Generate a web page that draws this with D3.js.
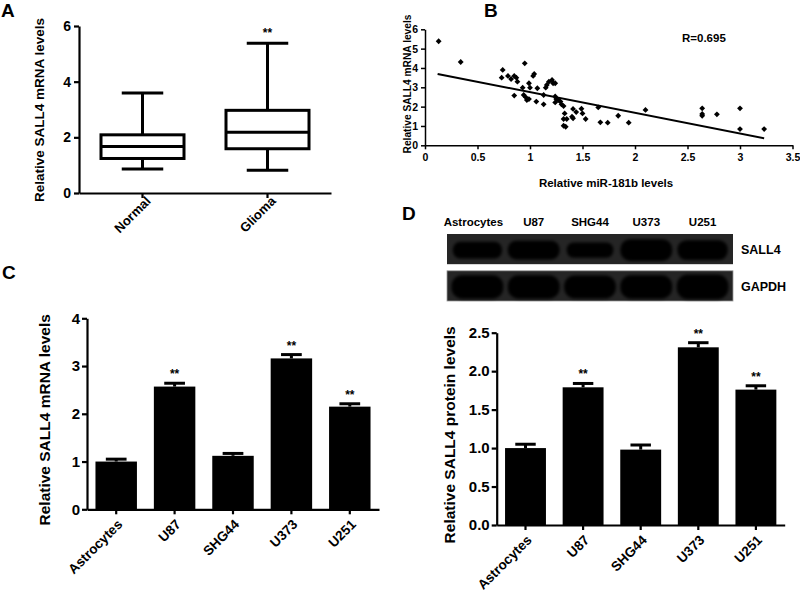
<!DOCTYPE html>
<html>
<head>
<meta charset="utf-8">
<script src="https://cdn.jsdelivr.net/npm/d3@7"></script>
<style>
  body { margin: 0; background: #fff; }
  svg { display: block; }
</style>
</head>
<body>
<svg id="fig" width="800" height="594"></svg>
<script>
// ---- data ----
// A: box plot
const boxGroups = ["Normal", "Glioma"];
const boxMin = [0.86, 0.82];
const boxQ1 = [1.24, 1.59];
const boxMedian = [1.67, 2.18];
const boxQ3 = [2.09, 2.97];
const boxMax = [3.59, 5.38];
const boxSig = ["", "**"];

// B: scatter, miR-181b vs SALL4 mRNA
const mirLevels = [0.13, 0.34, 0.74, 0.73, 0.79, 0.82, 0.85, 0.87, 0.88, 0.85,
  0.95, 0.93, 0.94, 0.96, 0.97, 0.99, 0.99, 1.0, 1.03, 1.04,
  1.07, 1.06, 1.13, 1.13, 1.15, 1.16, 1.18, 1.21, 1.22, 1.24,
  1.24, 1.25, 1.24, 1.27, 1.29, 1.30, 1.32, 1.32, 1.33, 1.32,
  1.34, 1.35, 1.41, 1.40, 1.41, 1.44, 1.49, 1.50, 1.53, 1.65,
  1.67, 1.74, 1.84, 1.94, 2.10, 2.64, 2.64, 2.64, 2.78, 3.0,
  3.0, 3.23];
const sallLevels = [5.38, 4.31, 3.9, 3.5, 3.59, 3.43, 3.59, 3.5, 3.29, 2.57,
  4.24, 2.98, 2.6, 2.48, 2.34, 2.39, 3.21, 2.98, 3.59, 3.69,
  2.95, 2.26, 2.12, 2.6, 2.98, 3.12, 3.29, 3.38, 3.21, 3.21,
  2.53, 2.39, 2.22, 2.34, 2.26, 2.12, 2.03, 1.36, 1.65, 1.01,
  0.96, 1.36, 1.88, 1.48, 1.4, 1.72, 1.89, 1.65, 1.36, 1.96,
  1.19, 1.17, 1.53, 1.17, 1.83, 1.91, 1.62, 1.53, 1.6, 1.91,
  0.84, 0.84];
const fitX = [0.12, 3.23];
const fitY = [3.69, 0.36];
const rText = "R=0.695";

// C, D: cell lines
const cells = ["Astrocytes", "U87", "SHG44", "U373", "U251"];
const mrnaMean = [1.0, 2.57, 1.12, 3.16, 2.15];
const mrnaErr = [0.05, 0.07, 0.05, 0.08, 0.06];
const proteinMean = [1.0, 1.79, 0.98, 2.31, 1.76];
const proteinErr = [0.05, 0.05, 0.06, 0.06, 0.05];
const cellSig = ["", "**", "", "**", "**"];

// D: western blot
const blotRows = ["SALL4", "GAPDH"];
const sallBand = [0.55, 0.62, 0.5, 0.72, 0.66];
const sallBandWidth = [0.95, 1, 0.9, 1, 0.97];
const gapdhBand = [0.78, 0.78, 0.76, 0.78, 0.82];

const font = '"Liberation Sans", Arial, Helvetica, sans-serif';
const svg = d3.select("#fig")
  .attr("font-family", font)
  .attr("font-weight", "bold");

function styleAxis(g, w, size) {
  g.attr("font-family", font).attr("font-size", size).attr("font-weight", "bold");
  g.select(".domain").attr("stroke", "#000").attr("stroke-width", w);
  g.selectAll(".tick line").attr("stroke", "#000").attr("stroke-width", w);
  g.selectAll(".tick text").attr("fill", "#000");
}

function panelLetter(t, x, y) {
  svg.append("text").attr("x", x).attr("y", y)
    .attr("font-size", 19).text(t);
}

function yTitle(t, x, y, size) {
  svg.append("text")
    .attr("transform", `translate(${x},${y}) rotate(-90)`)
    .attr("text-anchor", "middle")
    .attr("dy", "0.35em")
    .attr("font-size", size)
    .text(t);
}

// ================= A =================
panelLetter("A", 1, 17);
const xA = d3.scaleBand().domain(boxGroups).range([79, 331])
  .paddingInner(0.336).paddingOuter(0.176);
const yA = d3.scaleLinear().domain([0, 6]).range([193, 26]);

svg.append("g")
  .attr("transform", "translate(79,0)")
  .call(d3.axisLeft(yA).tickValues([0, 2, 4, 6]).tickFormat(d3.format("d"))
    .tickSize(5).tickPadding(3).tickSizeOuter(0))
  .call(g => styleAxis(g, 2.2, 14));

const axA = svg.append("g")
  .attr("transform", "translate(0,193)")
  .call(d3.axisBottom(xA).tickSize(5).tickSizeOuter(0))
  .call(g => styleAxis(g, 2.2, 13));
axA.selectAll(".tick text")
  .attr("x", null).attr("y", null).attr("dy", null)
  .attr("text-anchor", "end")
  .attr("transform", "translate(9,9) rotate(-45)");

const boxes = svg.append("g").selectAll("g").data(boxGroups).join("g");
boxes.each(function(d, i) {
  const g = d3.select(this);
  const cx = xA(d) + xA.bandwidth() / 2;
  const bw = xA.bandwidth();
  const line = (x1, y1, x2, y2) => g.append("line")
    .attr("x1", x1).attr("y1", y1).attr("x2", x2).attr("y2", y2)
    .attr("stroke", "#000").attr("stroke-width", 3);
  line(cx, yA(boxMin[i]), cx, yA(boxQ1[i]));
  line(cx, yA(boxQ3[i]), cx, yA(boxMax[i]));
  line(cx - bw / 4, yA(boxMin[i]), cx + bw / 4, yA(boxMin[i]));
  line(cx - bw / 4, yA(boxMax[i]), cx + bw / 4, yA(boxMax[i]));
  g.append("rect")
    .attr("x", xA(d)).attr("y", yA(boxQ3[i]))
    .attr("width", bw).attr("height", yA(boxQ1[i]) - yA(boxQ3[i]))
    .attr("fill", "#fff").attr("stroke", "#000").attr("stroke-width", 3);
  line(xA(d), yA(boxMedian[i]), xA(d) + bw, yA(boxMedian[i]));
  if (boxSig[i]) {
    g.append("text").attr("x", cx).attr("y", yA(boxMax[i]) - 6)
      .attr("text-anchor", "middle").attr("font-size", 12).text(boxSig[i]);
  }
});
yTitle("Relative SALL4 mRNA levels", 39, 110, 13.5);

// ================= B =================
panelLetter("B", 484, 17);
const xB = d3.scaleLinear().domain([0, 3.5]).range([425, 792.5]);
const yB = d3.scaleLinear().domain([0, 6]).range([145.3, 29.3]);

svg.append("g")
  .attr("transform", "translate(425,0)")
  .call(d3.axisLeft(yB).ticks(6).tickFormat(d3.format("d")).tickSize(4).tickPadding(3).tickSizeOuter(0))
  .call(g => styleAxis(g, 1.5, 10.5));
svg.append("g")
  .attr("transform", "translate(0,145.3)")
  .call(d3.axisBottom(xB).tickValues(d3.range(0, 3.51, 0.5))
    .tickFormat(d => String(+d.toFixed(1))).tickSize(4).tickPadding(4).tickSizeOuter(0))
  .call(g => styleAxis(g, 1.5, 10.5));

svg.append("line")
  .attr("x1", xB(fitX[0])).attr("y1", yB(fitY[0]))
  .attr("x2", xB(fitX[1])).attr("y2", yB(fitY[1]))
  .attr("stroke", "#000").attr("stroke-width", 2);

svg.append("g").selectAll("path")
  .data(mirLevels.map((m, i) => [m, sallLevels[i]]))
  .join("path")
  .attr("d", d3.symbol(d3.symbolSquare).size(17))
  .attr("transform", d => `translate(${xB(d[0])},${yB(d[1])}) rotate(45)`)
  .attr("fill", "#000");

svg.append("text").attr("x", 682).attr("y", 41.5)
  .attr("font-size", 11.5).text(rText);
svg.append("text").attr("x", 606).attr("y", 186.5)
  .attr("text-anchor", "middle").attr("font-size", 11.5)
  .text("Relative miR-181b levels");
yTitle("Relative SALL4 mRNA levels", 407, 84, 10.2);

// ================= C & D bar charts =================
function barPanel(x0, x1, yBottom, yTop, maxV, tickVals, fmt, means, errs, title, titleX) {
  const x = d3.scaleBand().domain(cells).range([x0, x1])
    .paddingInner(0.29).paddingOuter(0.145);
  const y = d3.scaleLinear().domain([0, maxV]).range([yBottom, yTop]);

  svg.append("g").selectAll("rect")
    .data(cells)
    .join("rect")
    .attr("x", d => x(d)).attr("width", x.bandwidth())
    .attr("y", (d, i) => y(means[i]))
    .attr("height", (d, i) => y(0) - y(means[i]))
    .attr("fill", "#000");

  const eb = svg.append("g").attr("stroke", "#000").attr("stroke-width", 3);
  cells.forEach((d, i) => {
    const cx = x(d) + x.bandwidth() / 2;
    eb.append("line").attr("x1", cx).attr("x2", cx)
      .attr("y1", y(means[i])).attr("y2", y(means[i] + errs[i]));
    eb.append("line").attr("x1", cx - x.bandwidth() / 4).attr("x2", cx + x.bandwidth() / 4)
      .attr("y1", y(means[i] + errs[i])).attr("y2", y(means[i] + errs[i]));
    if (cellSig[i]) {
      svg.append("text").attr("x", cx).attr("y", y(means[i] + errs[i]) - 5)
        .attr("text-anchor", "middle").attr("font-size", 12).text(cellSig[i]);
    }
  });

  svg.append("g")
    .attr("transform", `translate(${x0},0)`)
    .call(d3.axisLeft(y).tickValues(tickVals).tickFormat(fmt).tickSize(5).tickPadding(2).tickSizeOuter(0))
    .call(g => styleAxis(g, 2.2, 15));
  const ax = svg.append("g")
    .attr("transform", `translate(0,${yBottom})`)
    .call(d3.axisBottom(x).tickSize(5).tickSizeOuter(0))
    .call(g => styleAxis(g, 2.2, 13.5));
  ax.selectAll(".tick text")
    .attr("x", null).attr("y", null).attr("dy", null)
    .attr("text-anchor", "end")
    .attr("transform", "translate(7,16) rotate(-45)");

  yTitle(title, titleX, (yBottom + yTop) / 2 + 6, 15.5);
}

// C
panelLetter("C", 2, 279);
barPanel(87, 379, 509.3, 318.3, 4, [0, 1, 2, 3, 4], d3.format("d"),
  mrnaMean, mrnaErr, "Relative SALL4 mRNA levels", 45);

// D
panelLetter("D", 402, 220);
barPanel(496.7, 784.7, 525, 332.7, 2.5, [0, 0.5, 1, 1.5, 2, 2.5], d3.format(".1f"),
  proteinMean, proteinErr, "Relative SALL4 protein levels", 450);

// western blot
const defs = svg.append("defs");
defs.append("filter").attr("id", "soft")
  .attr("x", "-20%").attr("y", "-40%").attr("width", "140%").attr("height", "180%")
  .append("feGaussianBlur").attr("stdDeviation", 1.8);

const blotX = d3.scaleBand().domain(cells).range([447, 733]).padding(0.08);
const blotY = d3.scaleBand().domain(blotRows).range([234, 301]).paddingInner(0.18);

svg.append("g").selectAll("text")
  .data(cells)
  .join("text")
  .attr("x", d => blotX(d) + blotX.bandwidth() / 2 - (d === "Astrocytes" ? 4 : 0))
  .attr("y", 226)
  .attr("text-anchor", "middle")
  .attr("font-size", 11.5)
  .text(d => d);

blotRows.forEach((row, r) => {
  const g = svg.append("g");
  const y0 = blotY(row), h = blotY.bandwidth();
  g.append("rect")
    .attr("x", blotX.range()[0]).attr("width", blotX.range()[1] - blotX.range()[0])
    .attr("y", y0).attr("height", h)
    .attr("fill", "#252525")
    .attr("stroke", r === 1 ? "#999" : "none").attr("stroke-width", 0.8);
  const heights = r === 0 ? sallBand : gapdhBand;
  cells.forEach((c, i) => {
    const wf = r === 0 ? sallBandWidth[i] : 1;
    const bw = blotX.bandwidth() * wf;
    const bh = h * heights[i];
    g.append("rect")
      .attr("x", blotX(c) + (blotX.bandwidth() - bw) / 2)
      .attr("width", bw)
      .attr("y", y0 + (h - bh) / 2 + 1)
      .attr("height", bh)
      .attr("rx", bh / 2.2)
      .attr("fill", "#020202")
      .attr("filter", "url(#soft)");
  });
  g.append("text")
    .attr("x", 741)
    .attr("y", y0 + h / 2 + 5)
    .attr("font-size", 12.5)
    .text(row);
});
</script>
</body>
</html>
